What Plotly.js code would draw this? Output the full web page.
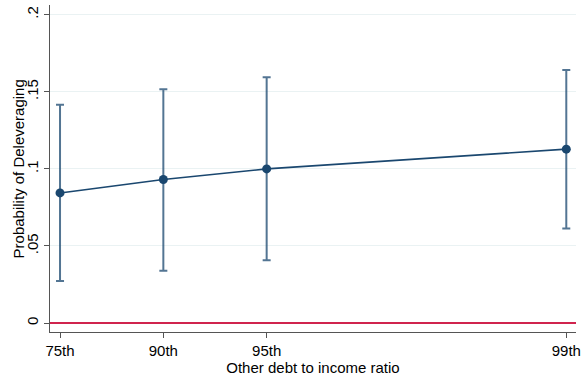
<!DOCTYPE html>
<html><head><meta charset="utf-8">
<script src="https://cdn.plot.ly/plotly-3.0.1.min.js"></script>
<style>html,body{margin:0;padding:0;background:#fff}#chart{width:584px;height:378px}</style>
</head><body><div id="chart"></div>
<script>
const categories = ["75th", "90th", "95th", "99th"];
const xPositions = [0, 1, 2, 4.9];
const probability = [0.0844, 0.0931, 0.1000, 0.1128];
const ciUpper = [0.1416, 0.1516, 0.1595, 0.1641];
const ciLower = [0.0273, 0.0340, 0.0407, 0.0613];
const yTickVals = [0, 0.05, 0.1, 0.15, 0.2];
const yTickText = ["0", ".05", ".1", ".15", ".2"];
const yTitle = "Probability of Deleveraging";
const xTitle = "Other debt to income ratio";

const navy = "#1a476f";
const trace = {
  x: xPositions, y: probability, type: "scatter", mode: "lines+markers",
  line: {color: navy, width: 1.6},
  marker: {color: navy, size: 9},
  error_y: {type: "data", symmetric: false,
    array: probability.map((v, i) => ciUpper[i] - v),
    arrayminus: probability.map((v, i) => v - ciLower[i]),
    color: "rgba(26,71,111,0.75)", thickness: 2, width: 4},
  hoverinfo: "skip"
};
const layout = {
  width: 584, height: 378,
  margin: {l: 50, r: 8, t: 5, b: 46},
  paper_bgcolor: "#fff", plot_bgcolor: "#fff",
  showlegend: false,
  font: {family: "Liberation Sans, Arial, sans-serif", size: 15, color: "#000"},
  xaxis: {
    range: [-0.097, 4.994], tickvals: xPositions, ticktext: categories,
    showgrid: false, zeroline: false, showline: true, linecolor: "#555", linewidth: 1,
    ticks: "outside", ticklen: 5, tickcolor: "#555", tickwidth: 1,
    title: {text: xTitle, standoff: 1, font: {size: 15}},
    tickfont: {size: 15}
  },
  yaxis: {
    range: [-0.0058, 0.2063], tickvals: yTickVals, ticktext: yTickText,
    tickangle: -90,
    showgrid: true, gridcolor: "#eaf2f3", gridwidth: 1,
    zeroline: true, zerolinecolor: "#d0244e", zerolinewidth: 1.5,
    showline: true, linecolor: "#555", linewidth: 1,
    ticks: "outside", ticklen: 5, tickcolor: "#555", tickwidth: 1,
    tickfont: {size: 15}
  },
  annotations: [{
    text: yTitle, xref: "paper", yref: "paper",
    x: -0.059, y: 0.5, xanchor: "center", yanchor: "middle",
    textangle: -90, showarrow: false, font: {size: 15}
  }]
};
Plotly.newPlot("chart", [trace], layout, {displayModeBar: false, staticPlot: true});
</script></body></html>
